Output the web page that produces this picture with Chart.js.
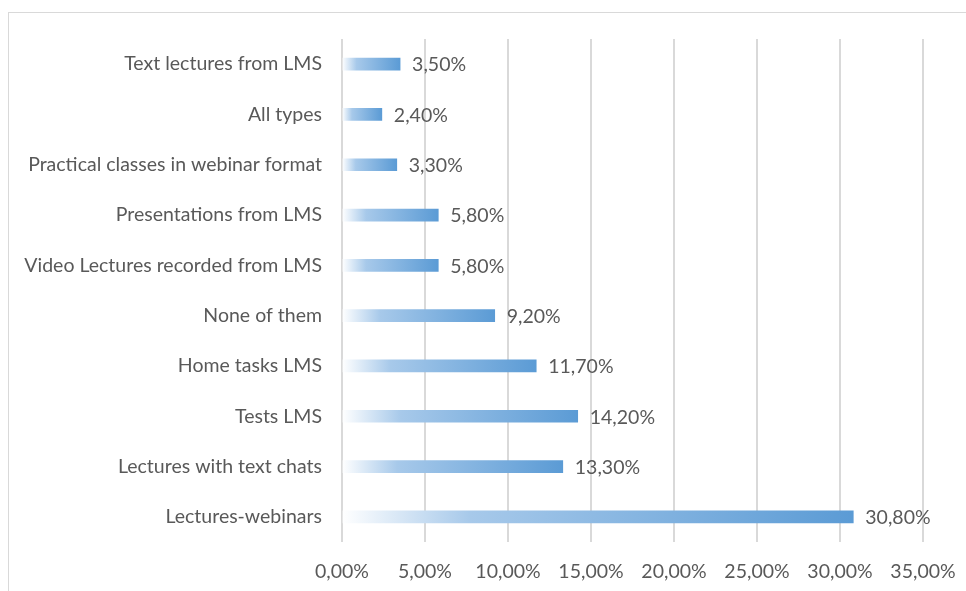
<!DOCTYPE html>
<html>
<head>
<meta charset="utf-8">
<script src="https://cdn.jsdelivr.net/npm/chart.js@4"></script>
<style>
  html, body { margin: 0; padding: 0; background: #fff; }
  #wrap { width: 966px; height: 591px; position: relative; }
</style>
</head>
<body>
<div id="wrap"><canvas id="chart"></canvas></div>
<script>
// categories, top to bottom as in the picture
const categories = [
    'Text lectures from LMS',
    'All types',
    'Practical classes in webinar format',
    'Presentations from LMS',
    'Video Lectures recorded from LMS',
    'None of them',
    'Home tasks LMS',
    'Tests LMS',
    'Lectures with text chats',
    'Lectures-webinars'
];
const shares = [3.5, 2.4, 3.3, 5.8, 5.8, 9.2, 11.7, 14.2, 13.3, 30.8];
const xTicks = [0, 5, 10, 15, 20, 25, 30, 35];

const FONT = 'Lato, "Liberation Sans", sans-serif';
const FONT_SIZE = 19.5;
const TEXT = '#595959';

function pct(v) {
    return v.toFixed(2).replace('.', ',') + '%';
}

// градиент слева направо по каждому бару
function barFill(ctx) {
    const chart = ctx.chart;
    const x = chart.scales.x;
    if (!x || ctx.raw == null) return '#5b9bd5';
    const x0 = x.getPixelForValue(0);
    const x1 = x.getPixelForValue(ctx.raw);
    if (!isFinite(x0) || !isFinite(x1) || x1 <= x0) return '#5b9bd5';
    const g = chart.ctx.createLinearGradient(x0, 0, x1, 0);
    g.addColorStop(0, '#ffffff');
    g.addColorStop(0.25, '#a7c9ea');
    g.addColorStop(1, '#5b9bd5');
    return g;
}

// рамка и подписи значений
const extras = {
    id: 'extras',
    beforeDraw(chart) {
        const c = chart.ctx;
        c.save();
        c.strokeStyle = '#d9d9d9';
        c.lineWidth = 1;
        c.strokeRect(8.5, 12.5, 1200, 1200);
        c.restore();
    },
    afterDatasetsDraw(chart) {
        const c = chart.ctx;
        const meta = chart.getDatasetMeta(0);
        c.save();
        c.font = FONT_SIZE + 'px ' + FONT;
        c.fillStyle = TEXT;
        c.textAlign = 'left';
        c.textBaseline = 'middle';
        meta.data.forEach((bar, i) => {
            c.fillText(pct(shares[i]), bar.x + 12, bar.y + 1);
        });
        c.restore();
    }
};

new Chart(document.getElementById('chart'), {
    type: 'bar',
    data: {
        labels: categories,
        datasets: [{
            data: shares,
            backgroundColor: barFill,
            barThickness: 12,
            borderWidth: 0
        }]
    },
    options: {
        indexAxis: 'y',
        responsive: true,
        maintainAspectRatio: false,
        animation: false,
        layout: { padding: { top: 39, right: 43, bottom: 0, left: 0 } },
        plugins: { legend: { display: false }, tooltip: { enabled: false } },
        scales: {
            x: {
                min: 0,
                max: 35,
                afterBuildTicks: s => { s.ticks = xTicks.map(v => ({ value: v })); },
                afterFit: s => {
                    s.height = 49;
                    s.paddingLeft = 0;
                    s.paddingRight = 0;
                },
                grid: { color: '#d9d9d9', lineWidth: 2, drawTicks: false },
                border: { display: false },
                ticks: {
                    color: TEXT,
                    font: { family: FONT, size: FONT_SIZE },
                    padding: 18,
                    callback: v => pct(v)
                }
            },
            y: {
                afterFit: s => {
                    s.width = 342;
                    s.paddingTop = 0;
                    s.paddingBottom = 0;
                },
                grid: { display: false, drawTicks: false },
                border: { display: false },
                ticks: {
                    color: TEXT,
                    font: { family: FONT, size: FONT_SIZE },
                    padding: 20
                }
            }
        }
    },
    plugins: [extras]
});
</script>
</body>
</html>
